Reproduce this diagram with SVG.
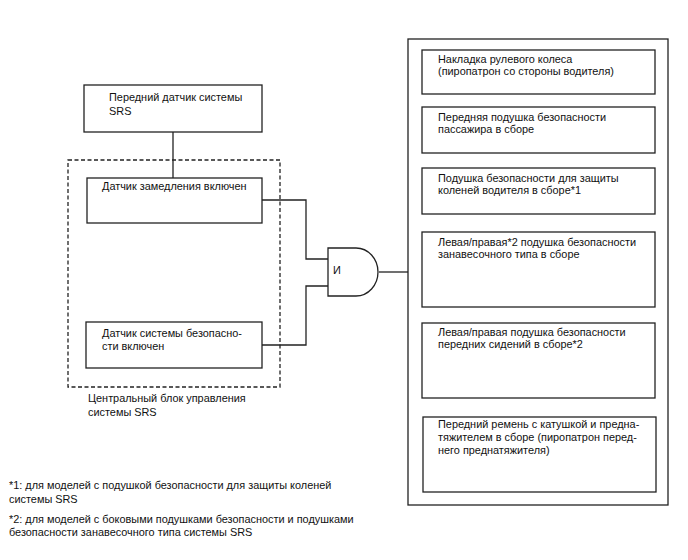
<svg xmlns="http://www.w3.org/2000/svg" width="688" height="560" viewBox="0 0 688 560">
<style>
.b{fill:#fff;stroke:#222;stroke-width:1.3}
.l{fill:none;stroke:#222;stroke-width:1.3}
.d{fill:none;stroke:#222;stroke-width:1.3;stroke-dasharray:4 2.5}
text{font-family:"Liberation Sans",Arial,sans-serif;font-size:10.9px;fill:#111}
</style>
<rect width="688" height="560" fill="#fff"/>
<g id="connectors">
<path class="l" d="M173 132V178"/>
<path class="l" d="M262 200H306V259H328"/>
<path class="l" d="M262 345H306V286H328"/>
<path class="l" d="M379 272H408"/>
</g>
<g id="ecu">
<rect class="d" x="68" y="160" width="212" height="227"/>
<text x="88" y="402">Центральный блок управления</text>
<text x="88" y="416">системы SRS</text>
</g>
<g id="front-sensor">
<rect class="b" x="84" y="85" width="178" height="47"/>
<text x="109" y="101">Передний датчик системы</text>
<text x="109" y="115">SRS</text>
</g>
<g id="decel-sensor">
<rect class="b" x="87" y="178" width="175" height="45"/>
<text x="102" y="190">Датчик замедления включен</text>
</g>
<g id="safety-sensor">
<rect class="b" x="86" y="322" width="176" height="46"/>
<text x="102" y="337">Датчик системы безопасно-</text>
<text x="102" y="350">сти включен</text>
</g>
<g id="and-gate">
<path class="b" d="M328 248H356A22 24 0 0 1 356 296H328Z"/>
<text x="333" y="274">И</text>
</g>
<g id="outputs">
<rect class="b" x="408" y="39" width="260" height="466"/>
</g>
<g id="steering">
<rect class="b" x="422" y="50" width="233" height="44"/>
<text x="438" y="63">Накладка рулевого колеса</text>
<text x="438" y="75">(пиропатрон со стороны водителя)</text>
</g>
<g id="passenger">
<rect class="b" x="422" y="107" width="233" height="46"/>
<text x="438" y="121">Передняя подушка безопасности</text>
<text x="438" y="133">пассажира в сборе</text>
</g>
<g id="knee">
<rect class="b" x="422" y="168" width="233" height="46"/>
<text x="438" y="182">Подушка безопасности для защиты</text>
<text x="438" y="194">коленей водителя в сборе*1</text>
</g>
<g id="curtain">
<rect class="b" x="422" y="232" width="233" height="75"/>
<text x="438" y="246">Левая/правая*2 подушка безопасности</text>
<text x="438" y="258">занавесочного типа в сборе</text>
</g>
<g id="side">
<rect class="b" x="422" y="323" width="233" height="75"/>
<text x="438" y="336">Левая/правая подушка безопасности</text>
<text x="438" y="348">передних сидений в сборе*2</text>
</g>
<g id="belt">
<rect class="b" x="423" y="417" width="233" height="75"/>
<text x="438" y="428">Передний ремень с катушкой и предна-</text>
<text x="438" y="441">тяжителем в сборе (пиропатрон перед-</text>
<text x="438" y="454">него преднатяжителя)</text>
</g>
<g id="notes">
<text x="9" y="489">*1: для моделей с подушкой безопасности для защиты коленей</text>
<text x="9" y="503">системы SRS</text>
<text x="9" y="523">*2: для моделей с боковыми подушками безопасности и подушками</text>
<text x="9" y="536">безопасности занавесочного типа системы SRS</text>
</g>
</svg>
